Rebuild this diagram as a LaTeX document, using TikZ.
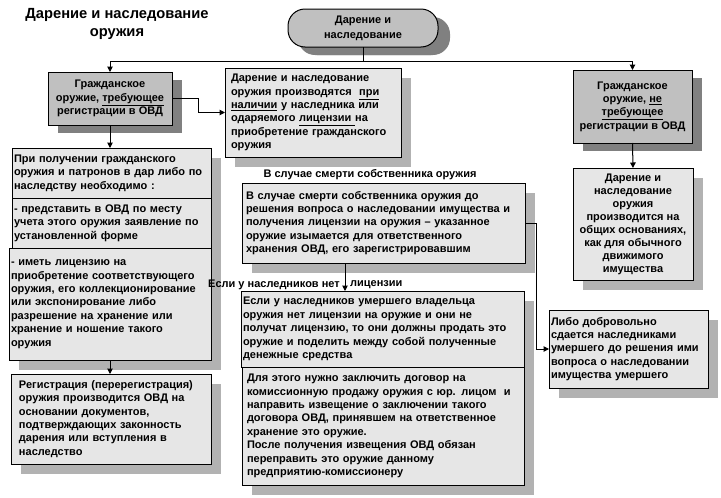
\documentclass[tikz,border=0pt]{standalone}
\usepackage{fontspec}
\setmainfont{Liberation Sans}
\usetikzlibrary{shadows,arrows.meta,calc}
\definecolor{lightfill}{HTML}{E6E6E6}
\definecolor{grayfill}{HTML}{C0C0C0}
\definecolor{lshadow}{HTML}{B2B2B2}
\definecolor{dshadow}{HTML}{808080}
\begin{document}
\begin{tikzpicture}[x=1pt,y=-1pt,
 txt/.style={font=\bfseries\fontsize{11}{13.4}\selectfont},
 base/.style={txt, draw=black, line width=1pt, anchor=north west, inner ysep=2pt, outer sep=0pt},
 lightbox/.style={base, fill=lightfill, drop shadow={shadow xshift=10pt, shadow yshift=-10pt, fill=lshadow, opacity=1}},
 graybox/.style={base, fill=grayfill, drop shadow={shadow xshift=10pt, shadow yshift=-8pt, fill=dshadow, opacity=1}},
 arr/.style={-{Triangle[width=5.5pt,length=5.5pt]}, line width=1pt},
 conn/.style={line width=1pt},
 lbl/.style={txt, inner sep=0pt},
]
\useasboundingbox[fill=white] (0,0) rectangle (721,498);

\node[lbl, font=\bfseries\fontsize{14.7}{18}\selectfont, align=center] (title) at (117,24) {Дарение и наследование\\оружия};

\node[graybox, anchor=center, rounded corners=17pt, minimum width=150pt, minimum height=38pt, align=center, inner xsep=2pt, font=\bfseries\fontsize{11}{15}\selectfont, drop shadow={shadow xshift=12pt, shadow yshift=-8pt, fill=dshadow, opacity=1}] (top) at (363,28) {Дарение и\\наследование};

\node[graybox, minimum width=124pt, minimum height=53pt, inner xsep=2pt, align=center] (lg) at (48,72) {Гражданское\\оружие, \underline{требующее}\\регистрации в ОВД};

\node[lightbox, minimum width=176pt, minimum height=89pt, text width=164pt, inner xsep=6pt, align=left] (mt) at (225,68) {Дарение и наследование\\оружия производятся\ \ \underline{при}\\\underline{наличии} у наследника или\\одаряемого \underline{лицензии\ }на\\приобретение гражданского\\оружия};

\node[graybox, minimum width=119pt, minimum height=73pt, inner xsep=1pt, align=center] (rg) at (573,70) {Гражданское\\оружие, \underline{не}\\\underline{требующее}\\регистрации в ОВД};

\node[lightbox, minimum width=120pt, minimum height=112pt, inner xsep=1pt, align=center, font=\bfseries\fontsize{11}{13}\selectfont] (rb) at (573,168) {Дарение и\\наследование\\оружия\\производится на\\общих основаниях,\\как для обычного\\движимого\\имущества};

\node[lightbox, minimum width=199pt, minimum height=50pt, text width=195pt, inner xsep=2pt, align=left] (l1) at (12,148) {При получении гражданского\\оружия и патронов в дар либо по\\наследству необходимо :};
\node[lightbox, minimum width=199pt, minimum height=50pt, text width=195pt, inner xsep=2pt, align=left] (l2) at (12,198) {- представить в ОВД по месту\\учета этого оружия заявление по\\установленной форме};
\node[lightbox, minimum width=202pt, minimum height=112pt, text width=198pt, inner xsep=2pt, align=left] (l3) at (9,248) {- иметь лицензию на\\приобретение соответствующего\\оружия, его коллекционирование\\или экспонирование либо\\разрешение на хранение или\\хранение и ношение такого\\оружия};
\node[lightbox, minimum width=200pt, minimum height=90pt, text width=184pt, inner xsep=8pt, align=left] (l4) at (11,374) {Регистрация (перерегистрация)\\оружия производится ОВД на\\основании документов,\\подтверждающих законность\\дарения или вступления в\\наследство};

\node[lbl, anchor=center] (lab1) at (370,175) {В случае смерти собственника оружия};
\node[lightbox, minimum width=283pt, minimum height=80pt, text width=275pt, inner xsep=4pt, align=left] (m2) at (242,183) {В случае смерти собственника оружия до\\решения вопроса о наследовании имущества и\\получения лицензии на оружия – указанное\\оружие изымается для ответственного\\хранения ОВД, его зарегистрировавшим};
\node[lbl, anchor=east] (lab2a) at (340,285) {Если у наследников нет};
\node[lbl, anchor=west] (lab2b) at (350,285) {лицензии};
\node[lightbox, minimum width=283pt, minimum height=76pt, text width=279pt, inner xsep=2pt, align=left] (m3) at (241,291) {Если у наследников умершего владельца\\оружия нет лицензии на оружие и они не\\получат лицензию, то они должны продать это\\оружие и поделить между собой полученные\\денежные средства};
\node[lightbox, minimum width=282pt, minimum height=118pt, text width=272pt, inner xsep=5pt, align=left] (m4) at (242,367) {Для этого нужно заключить договор на\\комиссионную продажу оружия с юр. лицом\ \ и\\направить извещение о заключении такого\\договора ОВД, принявшем на ответственное\\хранение это оружие.\\После получения извещения ОВД обязан\\переправить это оружие данному\\предприятию-комиссионеру};

\node[lightbox, minimum width=159pt, minimum height=78pt, text width=155pt, inner xsep=2pt, align=left] (rbox) at (549,310) {Либо добровольно\\сдается наследниками\\умершего до решения ими\\вопроса о наследовании\\имущества умершего};

% connectors
\coordinate (j) at (362,61);
\coordinate (bx) at (198,0);
\coordinate (ax) at (345,0);
\coordinate (vx) at (536,0);
\draw[conn] (top.south) -- (top.south |- j);
\draw[conn] (lg.north |- j) -- (rg.north |- j);
\draw[arr] (lg.north |- j) -- (lg.north);
\draw[arr] (rg.north |- j) -- (rg.north);
\draw[arr] (lg.east) -| (bx |- mt.west) -- (mt.west);
\draw[arr] (lg.south) -- (lg.south |- l1.north);
\draw[arr] (l3.south -| lg.south) -- (l4.north -| lg.south);
\draw[arr] (rg.south) -- (rb.north);
\draw[arr] (m2.south -| ax) -- (m3.north -| ax);
\draw[arr] (m2.east) -| (vx |- rbox.west) -- (rbox.west);
\end{tikzpicture}
\end{document}
